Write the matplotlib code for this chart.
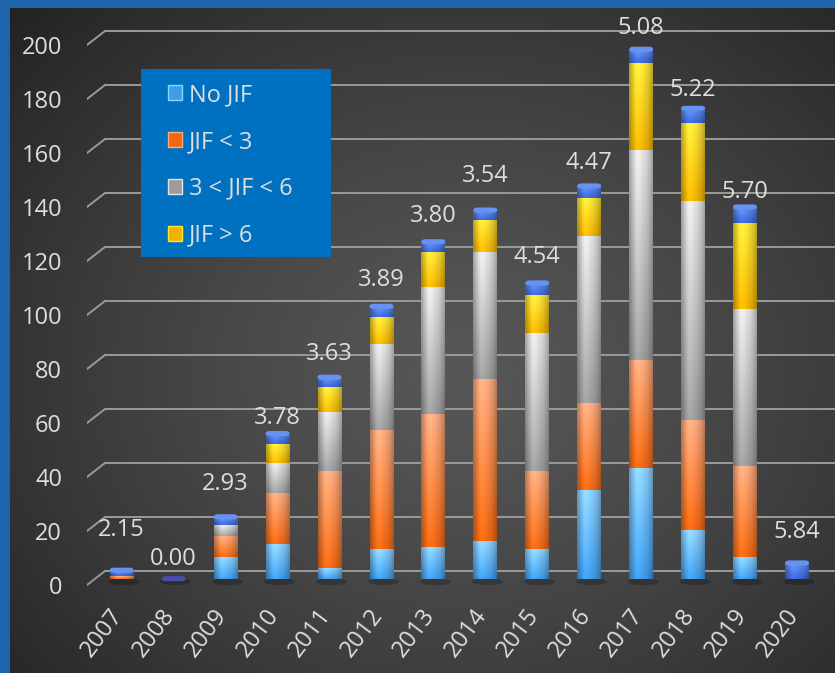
import numpy as np
import matplotlib
matplotlib.use("Agg")
import matplotlib.pyplot as plt
from matplotlib.transforms import ScaledTranslation, blended_transform_factory
from matplotlib.patches import FancyBboxPatch, Rectangle, Ellipse
from matplotlib.colors import to_rgb

# ---- data -------------------------------------------------------------
years = ['2007', '2008', '2009', '2010', '2011', '2012', '2013',
         '2014', '2015', '2016', '2017', '2018', '2019', '2020']
no_jif   = [0, 0, 8, 13, 4, 11, 12, 14, 11, 33, 41, 18, 8, 0]
jif_lt3  = [1, 0, 8, 19, 36, 44, 49, 60, 29, 32, 40, 41, 34, 0]
jif_3_6  = [0, 0, 4, 11, 22, 32, 47, 47, 51, 62, 78, 81, 58, 0]
jif_gt6  = [0, 0, 0, 7, 9, 10, 13, 12, 14, 14, 32, 29, 32, 0]
mean_jif = [2.15, 0.00, 2.93, 3.78, 3.63, 3.89, 3.80, 3.54, 4.54, 4.47,
            5.08, 5.22, 5.70, 5.84]
series_names = ['No JIF', 'JIF < 3', '3 < JIF < 6', 'JIF > 6']
y_ticks = list(range(0, 201, 20))

# ---- styling ----------------------------------------------------------
FONT = ['Open Sans', 'DejaVu Sans']
TXT = '#dedede'
FS = 17
# (top colour, bottom colour) of every stacked segment
seg_colors = [('#8ed2ff', '#3f9ce9'),   # No JIF
              ('#fbab80', '#f06812'),   # JIF < 3
              ('#e2e2e2', '#9c9c9c'),   # 3 < JIF < 6
              ('#fbe63a', '#f1b300'),   # JIF > 6
              ('#6590f2', '#3a66d6')]   # mean JIF cap
# lift of each value label above its column, in pixels
label_lift_px = [40, 20, 33, 16, 23, 27, 26, 34, 26, 23, 22, 19, 15, 31]

plt.rcParams['font.family'] = FONT

W, H = 835, 673
fig = plt.figure(figsize=(W / 100, H / 100), dpi=100)
fig.patch.set_facecolor('#1d64ac')

# dark panel with a soft radial glow
bg = fig.add_axes([10 / W, 0, (W - 10) / W, (H - 8) / H])
bg.set_axis_off()
yy, xx = np.mgrid[0:1:300j, 0:1:380j]
r = np.sqrt(((xx - 0.55) / 0.75) ** 2 + ((yy - 0.55) / 0.8) ** 2)
t = np.clip(r, 0, 1) ** 1.3
c_in, c_out = np.array(to_rgb('#575757')), np.array(to_rgb('#232323'))
img = c_in * (1 - t[..., None]) + c_out * t[..., None]
bg.imshow(img, extent=(0, 1, 0, 1), aspect='auto', origin='upper')
bg.set_xlim(0, 1)
bg.set_ylim(0, 1)

# main plotting axes (the plane that holds the columns)
ax_l, ax_r, ax_top, ax_bot = 87, W, 20, 600
ax = fig.add_axes([ax_l / W, (H - ax_bot) / H, (ax_r - ax_l) / W,
                   (ax_bot - ax_top) / H])
ax.patch.set_alpha(0)
for s in ax.spines.values():
    s.set_visible(False)

ppu_x = 51.95          # pixels per category
ppu_y = 2.7            # pixels per unit
x0_px, y0_px = 121.7, 579
xlim = ((ax_l - x0_px) / ppu_x, (ax_r - x0_px) / ppu_x)
ylim = ((y0_px - ax_bot) / ppu_y, (y0_px - ax_top) / ppu_y)
ax.set_xlim(*xlim)
ax.set_ylim(*ylim)
ax.set_autoscale_on(False)

dpi = fig.dpi
def px(v):
    return v / dpi

# back-wall gridlines with the oblique step at the left
back = blended_transform_factory(ax.transAxes, ax.transData) + \
    ScaledTranslation(0, px(8), fig.dpi_scale_trans)
front = blended_transform_factory(ax.transAxes, ax.transData) + \
    ScaledTranslation(0, px(-6), fig.dpi_scale_trans)
step = 18 / (ax_r - ax_l)
for v in y_ticks:
    ax.plot([step, 1], [v, v], color='#9a9a9a', lw=1.4, transform=back,
            zorder=1, solid_capstyle='butt')
    ax.plot([0, step], [v, v + 14 / ppu_y], color='#9a9a9a', lw=1.4,
            transform=front, zorder=1)

# ---- stacked columns --------------------------------------------------
xs = np.arange(len(years))
width = 0.46
layers = [no_jif, jif_lt3, jif_3_6, jif_gt6, mean_jif]
bottom = np.zeros(len(years))
containers = []

hh = np.linspace(-1, 1, 40)[None, :]
shade = 1 - 0.28 * hh ** 2 + 0.10 * np.exp(-((hh + 0.35) / 0.35) ** 2)


def seg_image(c_top, c_bot, n=60):
    vv = np.linspace(0, 1, n)[:, None, None]
    base = np.array(to_rgb(c_top)) * (1 - vv) + np.array(to_rgb(c_bot)) * vv
    return np.clip(base * shade[..., None], 0, 1)


# faint floor shadow beneath each column
for x in xs:
    ax.add_patch(Ellipse((x + 0.04, -1.0), width * 1.3, 2.6,
                         color='black', alpha=0.22, lw=0, zorder=2))

for k, vals in enumerate(layers):
    vals = np.asarray(vals, dtype=float)
    bars = ax.bar(xs, vals, width=width, bottom=bottom,
                  color=seg_colors[k][1], linewidth=0, zorder=3)
    containers.append(bars)
    im = seg_image(*seg_colors[k])
    for i, p in enumerate(bars.patches):
        if vals[i] <= 0:
            continue
        ax.imshow(im, extent=(xs[i] - width / 2, xs[i] + width / 2,
                              bottom[i], bottom[i] + vals[i]),
                  aspect='auto', origin='upper', zorder=3.1,
                  clip_path=p, clip_on=True, interpolation='bilinear')
    bottom = bottom + vals

totals = bottom
top_h = 5 / ppu_y
for i, tot in enumerate(totals):
    # rounded top face of the column
    face = '#6892f2' if tot > 0.5 else '#4b4db3'
    ax.add_patch(FancyBboxPatch((xs[i] - width / 2, tot - 0.8),
                                width, top_h,
                                boxstyle='round,pad=0,rounding_size=0.08',
                                mutation_aspect=12,
                                facecolor=face, edgecolor='none', zorder=4))
    ax.annotate(f'{mean_jif[i]:.2f}', xy=(xs[i], tot),
                xytext=(0, label_lift_px[i] * 0.72), textcoords='offset points',
                ha='center', va='center', color=TXT, fontsize=FS, zorder=6)

# ---- axes text --------------------------------------------------------
ax.set_yticks(y_ticks)
ax.set_yticklabels([str(v) for v in y_ticks])
ax.tick_params(axis='y', length=0, pad=18, labelsize=FS, labelcolor=TXT)
for lab in ax.get_yticklabels():
    lab.set_transform(lab.get_transform() +
                      ScaledTranslation(0, px(-6), fig.dpi_scale_trans))

ax.set_xticks(xs)
ax.set_xticklabels(years, rotation=53, ha='right', va='center',
                   rotation_mode='anchor')
ax.tick_params(axis='x', length=0, pad=8, labelsize=FS, labelcolor=TXT)
for lab in ax.get_xticklabels():
    lab.set_transform(lab.get_transform() +
                      ScaledTranslation(px(-3), 0, fig.dpi_scale_trans))

# ---- legend -----------------------------------------------------------
fig.add_artist(Rectangle((141 / W, 1 - 257 / H), 190 / W, 188 / H,
                         transform=fig.transFigure, facecolor='#0070c0',
                         edgecolor='none', zorder=8))
leg = fig.legend(handles=containers[:4], labels=series_names,
                 loc='upper left', bbox_to_anchor=(168 / W, 1 - 83 / H),
                 frameon=False, fontsize=FS, labelcolor=TXT,
                 handlelength=0.6, handleheight=0.6, handletextpad=0.3,
                 labelspacing=0.97, borderpad=0, borderaxespad=0)
leg.set_zorder(9)
for h, (ct, cb) in zip(leg.legend_handles, seg_colors):
    h.set_facecolor(cb)
    h.set_edgecolor(ct)
    h.set_linewidth(1.0)

fig.savefig('out.png', dpi=100, facecolor=fig.get_facecolor())
